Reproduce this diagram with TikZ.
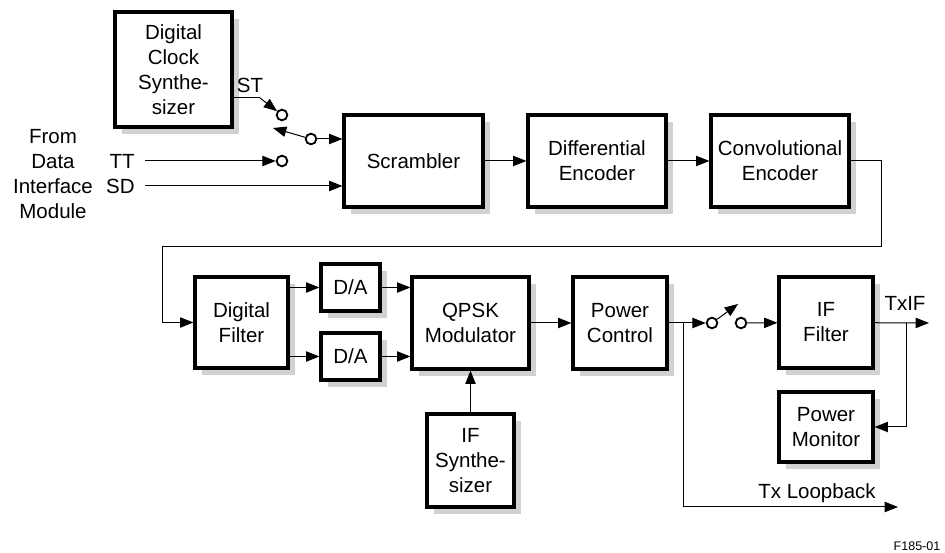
\documentclass[tikz,border=0pt]{standalone}
\usepackage{fontspec}
\setmainfont{Liberation Sans}
\usetikzlibrary{arrows.meta, shadows, calc}
\tikzset{
    block/.style={rectangle, draw, line width=1.9pt, fill=white, inner sep=0pt,
                  align=center, font=\fontsize{12.3}{15}\selectfont,
                  drop shadow={shadow xshift=4pt, shadow yshift=-4pt, fill=black!18, opacity=1}},
    arrow/.style={-{Triangle[length=8pt, width=6.2pt]}, line width=0.6pt},
    wire/.style={line width=0.6pt},
    switch/.style={circle, draw, line width=1.1pt, fill=white, minimum size=6.4pt, inner sep=0pt},
    lbl/.style={font=\fontsize{12.3}{15}\selectfont, align=center, inner sep=1pt},
}
\begin{document}
\begin{tikzpicture}[x=0.6pt, y=-0.6pt]
    \useasboundingbox (0,0) rectangle (945,553);

    % top row
    \node[block, minimum width=70.2pt, minimum height=69pt] (clock) at (173.5,69.5) {Digital\\Clock\\Synthe-\\sizer};
    \node[block, minimum width=83.4pt, minimum height=55.2pt] (scr) at (413.5,161) {Scrambler};
    \node[block, minimum width=82.8pt, minimum height=55.2pt] (diff) at (597,161) {Differential\\Encoder};
    \node[block, minimum width=82.8pt, minimum height=55.2pt] (conv) at (780,161) {Convolutional\\Encoder};

    % bottom row
    \node[block, minimum width=55.8pt, minimum height=54.6pt] (dfilt) at (241.5,322.5) {Digital\\Filter};
    \node[block, minimum width=35.4pt, minimum height=28.2pt] (da1) at (350.5,287.5) {D/A};
    \node[block, minimum width=35.4pt, minimum height=28.2pt] (da2) at (350.5,356.5) {D/A};
    \node[block, minimum width=70.2pt, minimum height=55.2pt] (qpsk) at (470.5,323) {QPSK\\Modulator};
    \node[block, minimum width=52.2pt, minimum height=55.8pt] (ifsyn) at (470.5,460.5) {IF\\Synthe-\\sizer};
    \node[block, minimum width=56.4pt, minimum height=55.2pt] (pwr) at (620,323) {Power\\Control};
    \node[block, minimum width=56.4pt, minimum height=54.6pt] (iff) at (826,322.5) {IF\\Filter};
    \node[block, minimum width=56.4pt, minimum height=42pt] (pmon) at (826,427) {Power\\Monitor};

    % switch contacts
    \node[switch] (sw1) at (282,115) {};
    \node[switch] (sw2) at (311,139) {};
    \node[switch] (swtt) at (282,161) {};
    \node[switch] (sw3) at (712,323) {};
    \node[switch] (sw4) at (741,323) {};

    % labels
    \node[lbl] (from) at (53,174) {From\\Data\\Interface\\Module};
    \node[lbl, anchor=east, inner xsep=6pt] (tt) at (145,161) {TT};
    \node[lbl, anchor=east, inner xsep=6pt] (sd) at (145,186) {SD};
    \node[lbl] (st) at (250,85) {ST};
    \node[lbl] (txif) at (905,303) {TxIF};
    \node[lbl] (txlb) at (817,493) {Tx Loopback};
    \node[font=\fontsize{7.5}{9}\selectfont, inner sep=0pt] (fig) at (917,546) {F185-01};

    \coordinate (stbend) at (260,98);
    \coordinate (lever1) at (273,128);
    \coordinate (lever2) at (738,304);
    \coordinate (loopR) at (881,247);
    \coordinate (loopL) at (162,247);
    \coordinate (tap) at (683,323);
    \coordinate (lbend) at (683,507);
    \coordinate (lbout) at (898,507);
    \coordinate (txtap) at (906,323);
    \coordinate (txout) at (929,323);

    \draw[wire] (clock.east |- stbend) -- (stbend);
    \draw[arrow] (stbend) -- (sw1);
    \draw[arrow] (sw2) -- (lever1);
    \draw[arrow] (sw2) -- (scr.west |- sw2);
    \draw[arrow] (tt.east) -- (swtt);
    \draw[arrow] (sd.east) -- (scr.west |- sd.east);

    \draw[arrow] (scr) -- (diff);
    \draw[arrow] (diff) -- (conv);
    \draw[arrow] (conv.east) -| (loopR) -- (loopL) |- (dfilt.west);

    \draw[arrow] (dfilt.east |- da1) -- (da1);
    \draw[arrow] (dfilt.east |- da2) -- (da2);
    \draw[arrow] (da1) -- (qpsk.west |- da1);
    \draw[arrow] (da2) -- (qpsk.west |- da2);
    \draw[arrow] (ifsyn) -- (qpsk);
    \draw[arrow] (qpsk) -- (pwr);

    \draw[arrow] (pwr) -- (sw3);
    \draw[arrow] (sw3) -- (lever2);
    \draw[arrow] (sw4) -- (iff);
    \draw[arrow] (tap) -- (lbend) -- (lbout);

    \draw[arrow] (iff) -- (txout);
    \draw[arrow] (txtap) |- (pmon.east);

\end{tikzpicture}
\end{document}
